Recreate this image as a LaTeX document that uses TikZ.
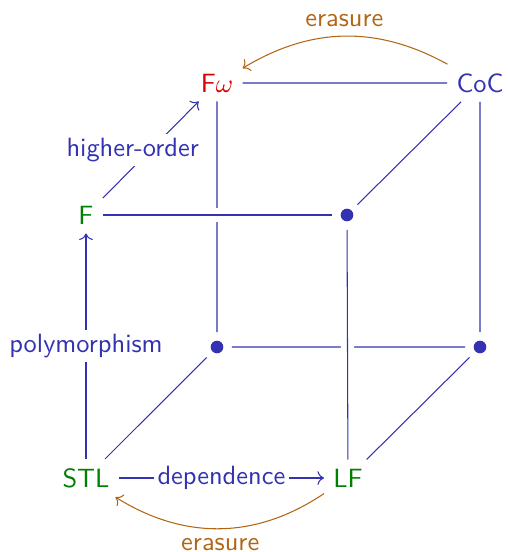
\documentclass[tikz,border=0pt]{standalone}
\usepackage{amsmath,amssymb}
\usepackage{xcolor}
\usepackage{tikz}
\usetikzlibrary{arrows.meta,positioning,calc}

\definecolor{cubeblue}{rgb}{0.2,0.2,0.7}
\definecolor{cubegreen}{rgb}{0,0.5,0}
\definecolor{cubered}{rgb}{0.85,0,0}
\definecolor{cubebrown}{rgb}{0.7,0.4,0.08}

\begin{document}
\begin{tikzpicture}[x=0.0133cm,y=-0.0133cm,font=\sffamily,
  edge/.style={cubeblue},
  over/.style={preaction={draw=white,line width=5pt}},
  vtx/.style={circle,fill=cubeblue,inner sep=0pt,minimum size=4.8pt,outer sep=3.2pt},
  lbl/.style={fill=white,inner sep=1.5pt,text=cubeblue},
  erase/.style={cubebrown,->}]
  \useasboundingbox (0,0) rectangle (507,552);
  % corners of the cube
  \node[text=cubered]   (fw)  at (217,83)  {F$\omega$};
  \node[text=cubeblue]  (coc) at (480,83)  {CoC};
  \node[text=cubegreen] (f)   at (86,215)  {F};
  \node[vtx]            (lp2) at (347,215) {};
  \node[vtx]            (lw)  at (217,347) {};
  \node[vtx]            (lpw) at (480,347) {};
  \node[text=cubegreen] (stl) at (86,478)  {STL};
  \node[text=cubegreen] (lf)  at (348,478) {LF};
  % plain edges
  \draw[edge] (fw)--(coc) (fw)--(lw) (coc)--(lpw) (coc)--(lp2);
  \draw[edge] (lw)--(lpw) (lw)--(stl) (lpw)--(lf);
  \draw[edge,over] (f)--(lp2);
  \draw[edge,over] (lp2)--(lf);
  % the three axes
  \draw[edge,->] (f) -- node[lbl,xshift=-0.24cm] {higher-order} (fw);
  \draw[edge,->] (stl) -- node[lbl] {polymorphism} (f);
  \draw[edge,->] (stl) -- node[lbl] {dependence} (lf);
  % erasure
  \draw[erase] (coc) to[bend right=30] node[above] {erasure} (fw);
  \draw[erase] (lf) to[bend left=33] node[below] {erasure} (stl);
\end{tikzpicture}
\end{document}
